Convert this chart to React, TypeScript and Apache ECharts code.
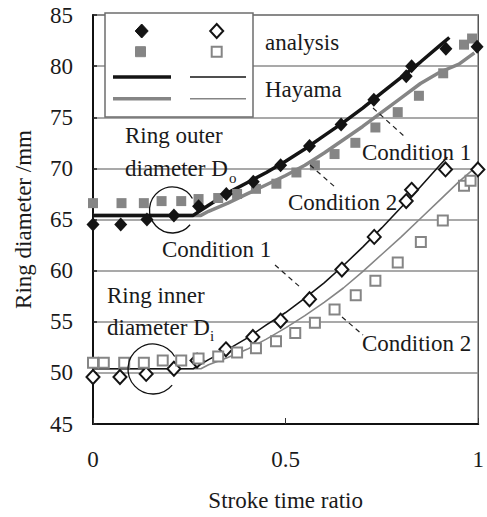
import React, { useEffect, useRef } from "react";
import * as echarts from "echarts";

// ---- data ----
const xTicks = [0, 0.5, 1];
const yTicks = [45, 50, 55, 60, 65, 70, 75, 80, 85];

// Outer diameter, analysis, Condition 1 (filled black diamonds)
const outerC1X = [0, 0.072, 0.14, 0.21, 0.274, 0.346, 0.416, 0.487, 0.562, 0.644, 0.729, 0.813, 0.827, 0.916, 0.997];
const outerC1Y = [64.5, 64.5, 65.0, 65.4, 66.3, 67.5, 68.7, 70.3, 72.2, 74.3, 76.7, 79.0, 80.0, 81.7, 81.9];

// Outer diameter, analysis, Condition 2 (filled grey squares)
const outerC2X = [0, 0.074, 0.132, 0.178, 0.229, 0.274, 0.325, 0.374, 0.423, 0.476, 0.528, 0.576, 0.627, 0.681, 0.733, 0.791, 0.846, 0.909, 0.963, 0.984];
const outerC2Y = [66.6, 66.6, 66.6, 66.8, 66.8, 67.0, 67.1, 67.5, 68.0, 68.5, 69.6, 70.3, 71.4, 72.5, 74.0, 75.5, 77.1, 79.3, 82.1, 82.7];

// Outer diameter, Hayama, Condition 1 (thick black line)
const hayOuterC1X = [0, 0.26, 0.3, 0.35, 0.4, 0.45, 0.5, 0.55, 0.6, 0.65, 0.7, 0.75, 0.8, 0.85, 0.9, 0.925];
const hayOuterC1Y = [65.4, 65.4, 66.4, 67.6, 68.6, 69.6, 70.7, 71.9, 73.2, 74.5, 75.9, 77.4, 78.9, 80.4, 82.0, 82.8];

// Outer diameter, Hayama, Condition 2 (thick grey line)
const hayOuterC2X = [0, 0.28, 0.3, 0.35, 0.4, 0.45, 0.5, 0.55, 0.6, 0.65, 0.7, 0.75, 0.8, 0.85, 0.9, 0.95, 0.99];
const hayOuterC2Y = [65.4, 65.4, 65.8, 66.6, 67.5, 68.4, 69.3, 70.3, 71.5, 72.8, 74.1, 75.5, 76.9, 78.3, 79.4, 80.2, 81.3];

// Inner diameter, analysis, Condition 1 (open black diamonds)
const innerC1X = [0, 0.07, 0.138, 0.21, 0.27, 0.345, 0.415, 0.487, 0.562, 0.646, 0.73, 0.813, 0.827, 0.915, 0.999];
const innerC1Y = [49.6, 49.6, 49.9, 50.4, 51.2, 52.3, 53.5, 55.1, 57.2, 60.1, 63.3, 66.8, 67.9, 69.9, 69.9];

// Inner diameter, analysis, Condition 2 (open grey squares)
const innerC2X = [0, 0.028, 0.081, 0.132, 0.181, 0.229, 0.274, 0.325, 0.374, 0.423, 0.475, 0.525, 0.576, 0.627, 0.682, 0.733, 0.791, 0.851, 0.908, 0.963, 0.98];
const innerC2Y = [51.0, 51.0, 51.0, 51.0, 51.2, 51.2, 51.4, 51.6, 52.0, 52.4, 53.1, 53.9, 54.9, 56.2, 57.6, 59.0, 60.8, 62.8, 64.9, 68.3, 68.8];

// Inner diameter, Hayama, Condition 1 (thin black line)
const hayInnerC1X = [0, 0.26, 0.3, 0.35, 0.4, 0.45, 0.5, 0.55, 0.6, 0.65, 0.7, 0.75, 0.8, 0.85, 0.9, 0.92];
const hayInnerC1Y = [50.4, 50.4, 51.3, 52.3, 53.4, 54.7, 55.9, 57.3, 58.8, 60.5, 62.3, 64.2, 66.2, 68.2, 70.3, 71.1];

// Inner diameter, Hayama, Condition 2 (thin grey line)
const hayInnerC2X = [0, 0.28, 0.3, 0.35, 0.4, 0.45, 0.5, 0.55, 0.6, 0.65, 0.7, 0.75, 0.8, 0.85, 0.9, 0.95, 0.99];
const hayInnerC2Y = [50.4, 50.4, 50.8, 51.5, 52.3, 53.3, 54.4, 55.6, 56.9, 58.3, 59.9, 61.6, 63.3, 65.1, 66.9, 68.7, 70.0];

const legendTexts = ["analysis", "Hayama"];

// ---- styling ----
const FONT = "'Liberation Serif', 'Times New Roman', serif";
const TXT = "#1a1a1a";
const BLACK = "#141414";
const GREY = "#858585";

const zip = (xs: number[], ys: number[]) => xs.map((x, i) => [x, ys[i]]);

export default function App() {
  const ref = useRef<HTMLDivElement>(null);

  useEffect(() => {
    if (!ref.current) return;
    const chart = echarts.init(ref.current, undefined, { renderer: "svg" });

    const text = (x: number, y: number, t: string, size = 23) => ({
      type: "text",
      x,
      y,
      z: 120,
      style: {
        text: t,
        fill: TXT,
        font: `${size}px ${FONT}`,
        textVerticalAlign: "middle",
        textAlign: "left",
      },
    });
    const dash = (x1: number, y1: number, x2: number, y2: number) => ({
      type: "line",
      z: 110,
      shape: { x1, y1, x2, y2 },
      style: { stroke: "#222", lineWidth: 1.2, lineDash: [5, 4] },
    });
    const arc = (cx: number, cy: number, r: number) => ({
      type: "arc",
      z: 110,
      shape: {
        cx,
        cy,
        r,
        startAngle: (40 * Math.PI) / 180,
        endAngle: (330 * Math.PI) / 180,
        clockwise: true,
      },
      style: { stroke: "#111", lineWidth: 1.3, fill: "none" },
    });
    const diamond = (cx: number, cy: number, filled: boolean) => ({
      type: "polygon",
      z: 121,
      shape: {
        points: [
          [cx, cy - 7],
          [cx + 6.5, cy],
          [cx, cy + 7],
          [cx - 6.5, cy],
        ],
      },
      style: filled
        ? { fill: BLACK, stroke: BLACK, lineWidth: 1 }
        : { fill: "#fff", stroke: BLACK, lineWidth: 2 },
    });
    const square = (cx: number, cy: number, filled: boolean) => ({
      type: "rect",
      z: 121,
      shape: { x: cx - 5, y: cy - 5, width: 10, height: 10 },
      style: filled
        ? { fill: GREY, stroke: GREY, lineWidth: 1 }
        : { fill: "#fff", stroke: GREY, lineWidth: 2 },
    });
    const seg = (x1: number, x2: number, y: number, color: string, w: number) => ({
      type: "line",
      z: 121,
      shape: { x1, y1: y, x2, y2: y },
      style: { stroke: color, lineWidth: w },
    });

    const scatterBase = { type: "scatter", animation: false };

    chart.setOption({
      animation: false,
      grid: {
        left: 93,
        right: 2,
        top: 15,
        bottom: 90,
        show: true,
        borderColor: "#555",
        borderWidth: 1.5,
        backgroundColor: "transparent",
      },
      xAxis: {
        type: "value",
        min: 0,
        max: 1,
        interval: 0.5,
        name: "Stroke time ratio",
        nameLocation: "middle",
        nameGap: 65,
        nameTextStyle: { fontSize: 23, fontFamily: FONT, color: TXT },
        axisLine: { show: true, lineStyle: { color: "#111", width: 2 } },
        axisTick: { show: true, inside: true, length: 6, lineStyle: { color: "#333", width: 1 } },
        axisLabel: {
          fontSize: 23,
          fontFamily: FONT,
          color: TXT,
          margin: 24,
          formatter: (v: number) => (xTicks.includes(v) ? String(v) : ""),
        },
        splitLine: { show: false },
      },
      yAxis: {
        type: "value",
        min: 45,
        max: 85,
        interval: 5,
        name: "Ring diameter /mm",
        nameLocation: "middle",
        nameGap: 58,
        nameTextStyle: { fontSize: 23, fontFamily: FONT, color: TXT },
        axisLine: { show: true, lineStyle: { color: "#111", width: 2 } },
        axisTick: { show: true, inside: true, length: 4, lineStyle: { color: "#222", width: 1.5 } },
        axisLabel: {
          fontSize: 23,
          fontFamily: FONT,
          color: TXT,
          margin: 20,
          formatter: (v: number) => (yTicks.includes(v) ? String(v) : ""),
        },
        splitLine: { show: true, lineStyle: { color: "#8c8c8c", width: 1.5 } },
      },
      series: [
        {
          name: "Hayama Condition 2 (outer)",
          type: "line",
          data: zip(hayOuterC2X, hayOuterC2Y),
          symbol: "none",
          lineStyle: { color: GREY, width: 3.5 },
          z: 2,
        },
        {
          name: "Hayama Condition 1 (outer)",
          type: "line",
          data: zip(hayOuterC1X, hayOuterC1Y),
          symbol: "none",
          lineStyle: { color: BLACK, width: 3.5 },
          z: 3,
        },
        {
          name: "Hayama Condition 2 (inner)",
          type: "line",
          data: zip(hayInnerC2X, hayInnerC2Y),
          symbol: "none",
          lineStyle: { color: GREY, width: 1.6 },
          z: 2,
        },
        {
          name: "Hayama Condition 1 (inner)",
          type: "line",
          data: zip(hayInnerC1X, hayInnerC1Y),
          symbol: "none",
          lineStyle: { color: BLACK, width: 1.6 },
          z: 3,
        },
        {
          ...scatterBase,
          name: "analysis Condition 2 (outer)",
          data: zip(outerC2X, outerC2Y),
          symbol: "rect",
          symbolSize: 10,
          itemStyle: { color: GREY, opacity: 1 },
          z: 4,
        },
        {
          ...scatterBase,
          name: "analysis Condition 1 (outer)",
          data: zip(outerC1X, outerC1Y),
          symbol: "diamond",
          symbolSize: [13, 14],
          itemStyle: { color: BLACK, opacity: 1 },
          z: 5,
        },
        {
          ...scatterBase,
          name: "analysis Condition 1 (inner)",
          data: zip(innerC1X, innerC1Y),
          symbol: "diamond",
          symbolSize: [13, 14],
          itemStyle: { color: "#fff", borderColor: BLACK, borderWidth: 2, opacity: 1 },
          z: 5,
        },
        {
          ...scatterBase,
          name: "analysis Condition 2 (inner)",
          data: zip(innerC2X, innerC2Y),
          symbol: "rect",
          symbolSize: 10,
          itemStyle: { color: "#fff", borderColor: GREY, borderWidth: 2, opacity: 1 },
          z: 6,
        },
      ],
      graphic: [
        // legend box
        {
          type: "rect",
          z: 119,
          shape: { x: 105, y: 13, width: 148, height: 104 },
          style: { fill: "#fff", stroke: "#6e6e6e", lineWidth: 1.5 },
        },
        diamond(141.7, 31, true),
        diamond(216.7, 31, false),
        square(140.5, 51.7, true),
        square(216.7, 51.7, false),
        seg(113, 171, 77, BLACK, 3.5),
        seg(190, 246, 77, BLACK, 1.6),
        seg(113, 171, 98.7, GREY, 3.5),
        seg(190, 246, 98.7, GREY, 1.6),
        text(265, 42, legendTexts[0]),
        text(265, 89, legendTexts[1]),
        // annotations: outer diameter
        text(125, 135, "Ring outer"),
        text(125, 168, "diameter D"),
        text(229, 178, "o", 15),
        arc(172.5, 210, 23),
        // annotations: inner diameter
        text(107, 295, "Ring inner"),
        text(107, 327, "diameter D"),
        text(210, 336, "i", 15),
        arc(153, 369, 25),
        // condition labels and leaders
        text(362, 152, "Condition 1"),
        dash(373, 108, 405, 137),
        text(288, 202, "Condition 2"),
        dash(310, 165, 335, 187),
        text(162, 249, "Condition 1"),
        dash(275, 265, 300, 287),
        text(362, 343, "Condition 2"),
        dash(342, 317, 363, 335),
      ],
    });

    return () => chart.dispose();
  }, []);

  return (
    <div
      ref={ref}
      style={{ position: "fixed", left: 0, top: 0, width: 487, height: 517, background: "#fff" }}
    />
  );
}
